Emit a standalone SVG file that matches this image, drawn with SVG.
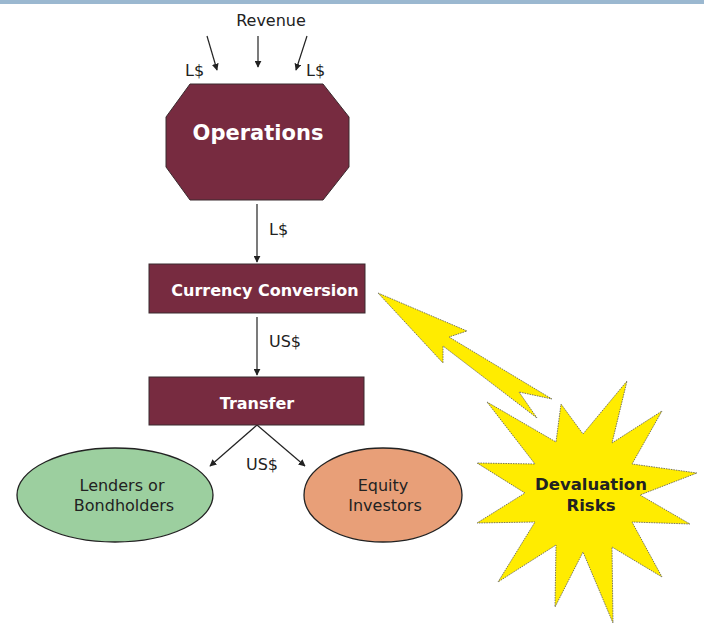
<svg xmlns="http://www.w3.org/2000/svg" width="704" height="625" viewBox="0 0 704 625">
<defs>
<marker id="ah" viewBox="0 0 10 10" refX="9" refY="5" markerWidth="7" markerHeight="7" markerUnits="userSpaceOnUse" orient="auto">
<path d="M0,0 L10,5 L0,10 z" fill="#222"/>
</marker>
<style>
.box{fill:#772b40;stroke:#3a2a2e;stroke-width:1}
.wt{font-family:"DejaVu Sans",sans-serif;font-weight:bold;fill:#fff;text-anchor:middle}
.lbl{font-family:"DejaVu Sans",sans-serif;fill:#222;font-size:16px}
.mid{text-anchor:middle}
.ln{stroke:#222;stroke-width:1.2;fill:none;marker-end:url(#ah)}
.yel{fill:#ffec00;stroke:#555;stroke-width:0.8;stroke-dasharray:1.5 1}
.dk{font-family:"DejaVu Sans",sans-serif;font-weight:bold;fill:#222;text-anchor:middle;font-size:16.5px}
</style>
</defs>
<rect x="0" y="0" width="704" height="4" fill="#9bb8d0"/>
<g id="connectors">
<line class="ln" x1="207" y1="36" x2="217" y2="70"/>
<line class="ln" x1="258" y1="36" x2="258" y2="67"/>
<line class="ln" x1="307" y1="36" x2="296" y2="70"/>
<line class="ln" x1="257" y1="204" x2="257" y2="262"/>
<line class="ln" x1="257" y1="317" x2="257" y2="375"/>
<line class="ln" x1="257" y1="425" x2="210" y2="466"/>
<line class="ln" x1="257" y1="425" x2="305" y2="466"/>
<text class="lbl mid" x="271" y="26">Revenue</text>
<text class="lbl" x="185" y="76">L$</text>
<text class="lbl" x="306" y="76">L$</text>
<text class="lbl" x="269" y="235">L$</text>
<text class="lbl" x="269" y="347">US$</text>
<text class="lbl" x="246" y="470">US$</text>
</g>
<g id="operations">
<polygon class="box" points="190,84 323,84 349,117 349,167 323,200 190,200 166,167 166,117"/>
<text class="wt" x="258" y="140" font-size="21">Operations</text>
</g>
<g id="currency-conversion">
<rect class="box" x="149" y="264" width="216" height="49"/>
<text class="wt" x="265" y="296" font-size="16">Currency Conversion</text>
</g>
<g id="transfer">
<rect class="box" x="149" y="377" width="215" height="48"/>
<text class="wt" x="257" y="409" font-size="16">Transfer</text>
</g>
<g id="lenders">
<ellipse cx="115" cy="495" rx="98" ry="47" fill="#9ccf9f" stroke="#222" stroke-width="1.3"/>
<text class="lbl mid" x="122" y="491" font-size="16.5">Lenders or</text>
<text class="lbl mid" x="124" y="511" font-size="16.5">Bondholders</text>
</g>
<g id="equity">
<ellipse cx="383" cy="495" rx="79" ry="47" fill="#e89f78" stroke="#222" stroke-width="1.3"/>
<text class="lbl mid" x="383" y="491" font-size="16.5">Equity</text>
<text class="lbl mid" x="385" y="511" font-size="16.5">Investors</text>
</g>
<g id="bolt">
<polygon class="yel" points="378,293 467,331 449,337 552,399 519,392 537,418 443,346 443,363"/>
</g>
<g id="devaluation-risks">
<polygon class="yel" points="487,402 556,442 561,404 583,434 627,381 612,443 662,411 632,464 697,473 640,495 690,524 632,522 662,577 612,547 613,623 583,552 555,607 556,545 498,582 535,522 477,523 525,493 477,463 535,464"/>
<text class="dk" x="591" y="490">Devaluation</text>
<text class="dk" x="591" y="511">Risks</text>
</g>
</svg>
